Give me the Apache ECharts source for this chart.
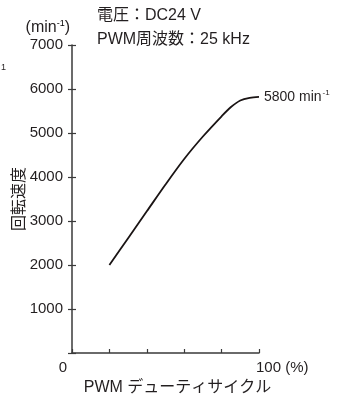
<!DOCTYPE html>
<html><head><meta charset="utf-8">
<script src="https://cdn.jsdelivr.net/npm/echarts@6/dist/echarts.min.js"></script>
<style>html,body{margin:0;padding:0;background:#fff}#c{width:344px;height:400px}</style>
</head><body><div id="c"></div>
<script>
const xTicks = [0, 20, 40, 60, 80, 100];
const xTickLabels = ['0', '100 (%)'];
const yTicks = [0, 1000, 2000, 3000, 4000, 5000, 6000, 7000];
const duty = [20, 30, 40, 50, 60, 70, 80, 85, 90, 95, 100];
const speed = [2000, 2610, 3220, 3830, 4410, 4920, 5380, 5590, 5740, 5800, 5820];
const titleLines = ['電圧：DC24 V', 'PWM周波数：25 kHz'];
const endText = '5800 min';

const INK = '#231f20';
const NARROW = "'Liberation Sans Narrow', 'Liberation Sans', Arial, sans-serif";
const JP = "'Liberation Sans', 'Noto Sans CJK JP', sans-serif";
const SANS = "'Liberation Sans', Arial, sans-serif";

const chart = echarts.init(document.getElementById('c'), null, {renderer: 'canvas'});
const yCommon = {
  type: 'value', min: yTicks[0], max: yTicks[yTicks.length - 1], interval: 1000,
  splitLine: {show: false}
};
chart.setOption({
  animation: false,
  grid: {left: 72, right: 85, top: 45, bottom: 47, containLabel: false, outerBoundsMode: 'none'},
  xAxis: {
    type: 'value', min: 0, max: 100, interval: 20,
    axisLine: {lineStyle: {color: '#3a3a3a', width: 1.5}},
    axisTick: {inside: true, length: 4, lineStyle: {color: '#3a3a3a', width: 1.2}},
    axisLabel: {show: false},
    splitLine: {show: false},
    name: 'PWM デューティサイクル', nameLocation: 'middle', nameGap: 27,
    nameTextStyle: {fontFamily: JP, fontSize: 16, color: INK, padding: [0, 0, 0, 24]}
  },
  yAxis: [
    Object.assign({}, yCommon, {
      axisLine: {show: true, lineStyle: {color: '#3a3a3a', width: 1.5}},
      axisTick: {show: true, length: 4, lineStyle: {color: '#3a3a3a', width: 1.2}},
      axisLabel: {fontFamily: NARROW, fontSize: 15, color: INK, margin: 9,
        formatter: v => v === 0 ? '' : String(v)},
      name: '回転速度', nameLocation: 'middle', nameRotate: 90, nameGap: 44,
      nameMoveOverlap: false,
      nameTextStyle: {fontFamily: JP, fontSize: 16, color: INK}
    }),
    Object.assign({}, yCommon, {
      position: 'left',
      axisLine: {show: false},
      axisTick: {show: true, inside: true, length: 4, lineStyle: {color: '#3a3a3a', width: 1.2}},
      axisLabel: {show: false}
    })
  ],
  series: [{
    type: 'line', data: duty.map((d, i) => [d, speed[i]]),
    smooth: 0.3, symbol: 'none',
    lineStyle: {color: '#1a1414', width: 1.8},
    endLabel: {
      show: true, distance: 5,
      formatter: '{a|' + endText + '}{s|-1}',
      rich: {
        a: {fontFamily: NARROW, fontSize: 14, color: INK},
        s: {fontFamily: NARROW, fontSize: 8, color: INK, padding: [0, 0, 8, 1]}
      }
    }
  }]
});

const p0 = chart.convertToPixel({xAxisIndex: 0, yAxisIndex: 0}, [xTicks[0], 0]);
const p1 = chart.convertToPixel({xAxisIndex: 0, yAxisIndex: 0}, [xTicks[xTicks.length - 1], 0]);
const pTop = chart.convertToPixel({xAxisIndex: 0, yAxisIndex: 0}, [0, yTicks[yTicks.length - 1]]);
chart.setOption({
  graphic: [
    {type: 'text', x: p0[0] - 9, y: p0[1] + 15, style: {text: xTickLabels[0], fontFamily: NARROW, fontSize: 15, fill: INK, align: 'center', verticalAlign: 'middle'}},
    {type: 'text', x: p1[0] - 3, y: p1[1] + 15, style: {text: xTickLabels[1], fontFamily: NARROW, fontSize: 15, fill: INK, align: 'left', verticalAlign: 'middle'}},
    {type: 'text', x: pTop[0] - 2, y: pTop[1] - 17, style: {
      text: '{a|(min}{s|-1}{a|)}', align: 'right', verticalAlign: 'middle',
      rich: {a: {fontFamily: SANS, fontSize: 16, fill: INK, color: INK},
             s: {fontFamily: SANS, fontSize: 9, color: INK, padding: [0, 0, 8, 0]}}}},
    {type: 'text', x: 97, y: 16, style: {text: titleLines[0], fontFamily: JP, fontSize: 16, fill: INK, align: 'left', verticalAlign: 'middle'}},
    {type: 'text', x: 97, y: 40, style: {text: titleLines[1], fontFamily: JP, fontSize: 16, fill: INK, align: 'left', verticalAlign: 'middle'}},
    {type: 'text', x: 1, y: 68, style: {text: '1', fontFamily: SANS, fontSize: 9, fill: INK, align: 'left', verticalAlign: 'middle'}}
  ]
});
</script></body></html>
